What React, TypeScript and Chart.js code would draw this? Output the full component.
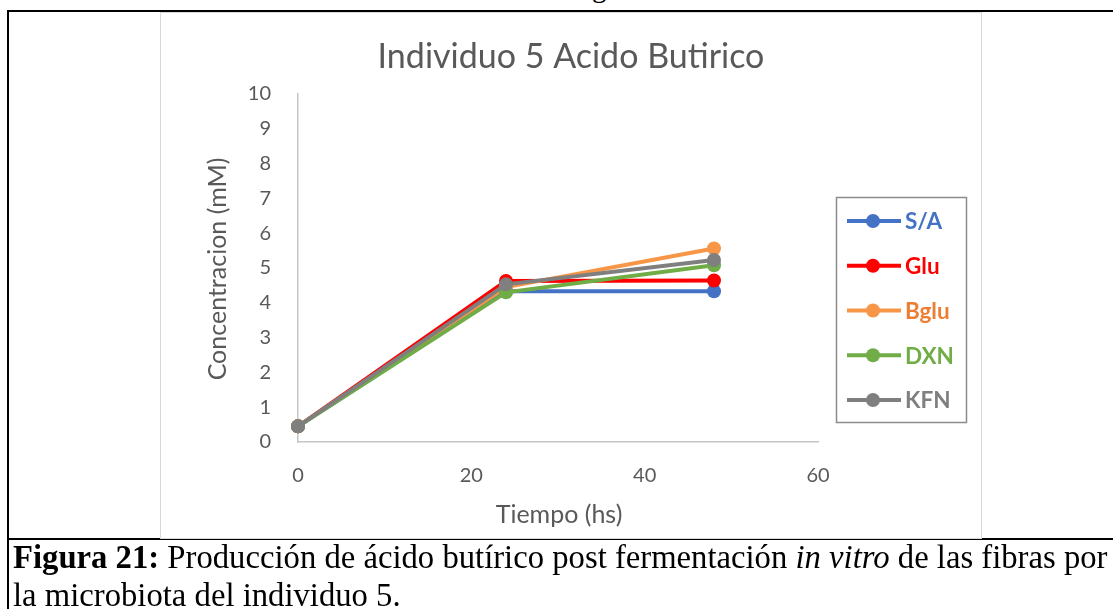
import React, { useEffect, useRef } from "react";
import { Chart, registerables } from "chart.js";

Chart.register(...registerables);

// ---- data ----
const timeHours = [0, 24, 48];
const seriesNames = ["S/A", "Glu", "Bglu", "DXN", "KFN"];
const saValues = [0.45, 4.33, 4.33];
const gluValues = [0.45, 4.63, 4.64];
const bgluValues = [0.45, 4.45, 5.56];
const dxnValues = [0.45, 4.3, 5.08];
const kfnValues = [0.45, 4.53, 5.23];
const lineColors = ["#4472C4", "#FF0000", "#F79646", "#70AD47", "#7F7F7F"];
const legendTextColors = ["#4472C4", "#FF0000", "#ED7D31", "#70AD47", "#7F7F7F"];
const xTickValues = [0, 20, 40, 60];
const yTickValues = [0, 1, 2, 3, 4, 5, 6, 7, 8, 9, 10];
const chartTitle = "Individuo 5 Acido Butirico";
const xTitle = "Tiempo (hs)";
const yTitle = "Concentracion (mM)";

const allValues = [saValues, gluValues, bgluValues, dxnValues, kfnValues];
const GRAY = "#595959";
const FONT = "Lato, 'Open Sans', sans-serif";

const textPlugin = {
  id: "excelTexts",
  afterDraw(chart: any) {
    const ctx = chart.ctx as CanvasRenderingContext2D;
    ctx.save();
    // title
    ctx.fillStyle = GRAY;
    ctx.textAlign = "center";
    ctx.textBaseline = "middle";
    ctx.font = `34px ${FONT}`;
    ctx.fillText(chartTitle, 571, 57);
    // x title
    ctx.font = `25px ${FONT}`;
    ctx.fillText(xTitle, 559, 515);
    // y title
    ctx.save();
    ctx.translate(218, 269);
    ctx.rotate(-Math.PI / 2);
    ctx.fillText(yTitle, 0, 0);
    ctx.restore();

    // legend
    const bx = 836.5, by = 197.5, bw = 130, bh = 225;
    ctx.strokeStyle = "#8C8C8C";
    ctx.lineWidth = 1.5;
    ctx.strokeRect(bx, by, bw, bh);
    const datasets = chart.data.datasets;
    const y0 = 221, y1 = 400;
    const step = (y1 - y0) / (datasets.length - 1);
    datasets.forEach((ds: any, i: number) => {
      const y = y0 + i * step;
      ctx.strokeStyle = ds.borderColor;
      ctx.lineWidth = 4;
      ctx.beginPath();
      ctx.moveTo(847, y);
      ctx.lineTo(901, y);
      ctx.stroke();
      ctx.fillStyle = ds.borderColor;
      ctx.beginPath();
      ctx.arc(873, y, 7, 0, Math.PI * 2);
      ctx.fill();
      ctx.fillStyle = legendTextColors[i];
      ctx.textAlign = "left";
      ctx.textBaseline = "middle";
      ctx.font = `bold 22.5px ${FONT}`;
      ctx.fillText(ds.label, 905, y + 1);
    });
    ctx.restore();
  },
};

function ChartCanvas() {
  const ref = useRef<HTMLCanvasElement | null>(null);
  useEffect(() => {
    if (!ref.current) return;
    const datasets = seriesNames.map((name, i) => ({
      label: name,
      data: timeHours.map((t, j) => ({ x: t, y: allValues[i][j] })),
      borderColor: lineColors[i],
      backgroundColor: lineColors[i],
      pointBackgroundColor: lineColors[i],
      pointBorderColor: lineColors[i],
      borderWidth: 4,
      pointRadius: 7,
      pointHoverRadius: 7,
      pointBorderWidth: 0,
      tension: 0,
      clip: false as any,
      order: seriesNames.length - i,
    }));
    const chart = new Chart(ref.current, {
      type: "line",
      data: { datasets },
      options: {
        responsive: false,
        animation: false,
        events: [],
        layout: { padding: { left: 238, right: 295, top: 94, bottom: 127 } },
        plugins: { legend: { display: false }, title: { display: false }, tooltip: { enabled: false } },
        scales: {
          x: {
            type: "linear",
            min: 0,
            max: 60,
            afterBuildTicks: (s: any) => {
              s.ticks = xTickValues.map((v) => ({ value: v }));
            },
            afterFit: (s: any) => {
              s.height = 40;
            },
            grid: { display: false, drawTicks: false },
            border: { display: true, color: "#C6C6C6", width: 1.5 },
            ticks: { color: GRAY, font: { family: FONT, size: 20 }, padding: 22, maxRotation: 0 },
          },
          y: {
            type: "linear",
            min: 0,
            max: 10,
            afterBuildTicks: (s: any) => {
              s.ticks = yTickValues.map((v) => ({ value: v }));
            },
            afterFit: (s: any) => {
              s.width = 60;
            },
            grid: { display: false, drawTicks: false },
            border: { display: true, color: "#C6C6C6", width: 1.5 },
            ticks: { color: GRAY, font: { family: FONT, size: 20 }, padding: 27 },
          },
        },
      } as any,
      plugins: [textPlugin],
    });
    return () => chart.destroy();
  }, []);
  return (
    <canvas
      ref={ref}
      width={1113}
      height={609}
      style={{ position: "absolute", left: 0, top: 0, width: 1113, height: 609 }}
    />
  );
}

export default function App() {
  const serif = "'Liberation Serif', 'Times New Roman', serif";
  return (
    <div style={{ position: "absolute", left: 0, top: 0, width: 1113, height: 609, background: "#fff", overflow: "hidden" }}>
      {/* clipped glyph from previous line */}
      <div style={{ position: "absolute", left: 592, top: 0, width: 20, height: 5, overflow: "hidden" }}>
        <span style={{ position: "absolute", left: 0, top: -32, fontFamily: serif, fontSize: 29, lineHeight: "38px" }}>g</span>
      </div>
      {/* table borders */}
      <div style={{ position: "absolute", left: 7, top: 10, width: 1106, height: 2, background: "#000" }} />
      <div style={{ position: "absolute", left: 7, top: 10, width: 2, height: 599, background: "#000" }} />
      <div style={{ position: "absolute", left: 7, top: 538, width: 1106, height: 2, background: "#000" }} />
      {/* chart box */}
      <div style={{ position: "absolute", left: 160, top: 12, width: 820, height: 525, border: "1px solid #D9D9D9" }} />
      <ChartCanvas />
      {/* caption */}
      <div style={{ position: "absolute", left: 13, top: 538, whiteSpace: "nowrap", fontFamily: serif, fontSize: 32.7, lineHeight: "38px", color: "#000" }}>
        <b>Figura 21:</b> Producción de ácido butírico post fermentación <i>in vitro</i> de las fibras por
        <br />
        la microbiota del individuo 5.
      </div>
    </div>
  );
}
